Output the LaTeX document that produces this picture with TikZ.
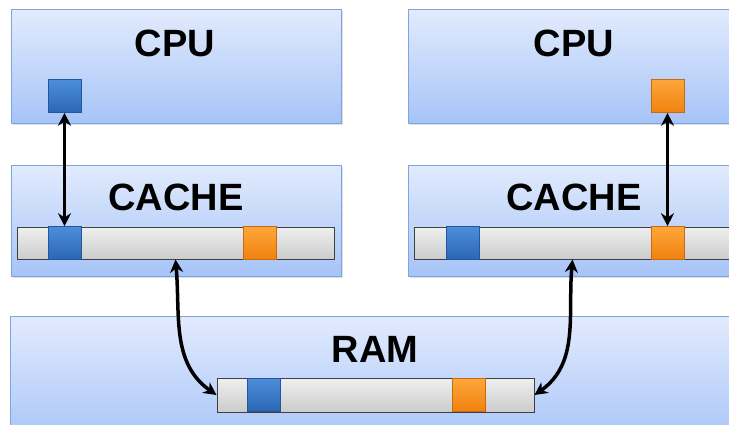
\documentclass[tikz,border=0pt]{standalone}
\usepackage{fontspec}
\setmainfont{Liberation Sans}
\usetikzlibrary{arrows.meta,shadows}
\definecolor{boxtop}{HTML}{E2EBFD}
\definecolor{boxbot}{HTML}{A6C4F8}
\definecolor{boxline}{HTML}{7FA5DE}
\definecolor{bartop}{HTML}{EFEFEF}
\definecolor{barbot}{HTML}{CCCCCC}
\definecolor{bluetop}{HTML}{4C8EDB}
\definecolor{bluebot}{HTML}{2C66B4}
\definecolor{blueline}{HTML}{25569A}
\definecolor{orgtop}{HTML}{FFA63A}
\definecolor{orgbot}{HTML}{F0820F}
\definecolor{orgline}{HTML}{C86A10}
\tikzset{
  unitbox/.style={draw=boxline, line width=1pt, top color=boxtop, bottom color=boxbot,
    inner sep=0pt, drop shadow={opacity=0.25, shadow xshift=1.5pt, shadow yshift=-1.5pt}},
  membar/.style={draw=black!75, line width=0.9pt, top color=bartop, bottom color=barbot,
    minimum width=317pt, inner sep=0pt},
  bluesq/.style={draw=blueline, line width=0.6pt, top color=bluetop, bottom color=bluebot,
    minimum width=33pt, minimum height=33pt, inner sep=0pt},
  orgsq/.style={draw=orgline, line width=0.6pt, top color=orgtop, bottom color=orgbot,
    minimum width=33pt, minimum height=33pt, inner sep=0pt},
  label/.style={font=\bfseries\fontsize{38}{44}\selectfont, anchor=base, inner sep=0pt},
  link/.style={line width=3.5pt, {Stealth[length=13pt,width=13pt]}-{Stealth[length=13pt,width=13pt]}}
}
\begin{document}
\begin{tikzpicture}[x=1pt,y=-1pt]
\useasboundingbox (0,0) rectangle (729,424);
\clip (0,0) rectangle (729,424);
% boxes
\node[unitbox, minimum width=330pt, minimum height=114pt] (cpuL) at (176,66) {};
\node[unitbox, minimum width=330pt, minimum height=114pt] (cpuR) at (573,66) {};
\node[unitbox, minimum width=330pt, minimum height=111pt] (cacheL) at (176,220.5) {};
\node[unitbox, minimum width=330pt, minimum height=111pt] (cacheR) at (573,220.5) {};
\node[unitbox, minimum width=740pt, minimum height=130pt] (ram) at (380,381) {};
% labels
\node[label] (tcpuL) at (175,56) {CPU};
\node[label] (tcpuR) at (574,56) {CPU};
\node[label] (tcacheL) at (176,210) {CACHE};
\node[label] (tcacheR) at (574,210) {CACHE};
\node[label] (tram) at (375,362) {RAM};
% bars
\node[membar, minimum height=32pt] (barL) at (175.5,243) {};
\node[membar, minimum height=32pt] (barR) at (572.5,243) {};
\node[membar, minimum height=34pt] (barM) at (375.5,395) {};
% squares
\node[bluesq] (bcpuL) at (64.5,96) {};
\node[orgsq] (ocpuR) at (667.5,96) {};
\node[bluesq] (bcacheL) at (64.5,243) {};
\node[orgsq] (ocacheL) at (259.5,243) {};
\node[bluesq] (bcacheR) at (462.5,243) {};
\node[orgsq] (ocacheR) at (667.5,243) {};
\node[bluesq] (bram) at (263.5,395) {};
\node[orgsq] (oram) at (469,395) {};
% connectors
\draw[link] (bcpuL.south) -- (bcacheL.north);
\draw[link] (ocpuR.south) -- (ocacheR.north);
\draw[link] (barL.south) to[out=-85, in=145] (barM.west);
\draw[link] (barR.south) to[out=-95, in=35] (barM.east);
\end{tikzpicture}
\end{document}
